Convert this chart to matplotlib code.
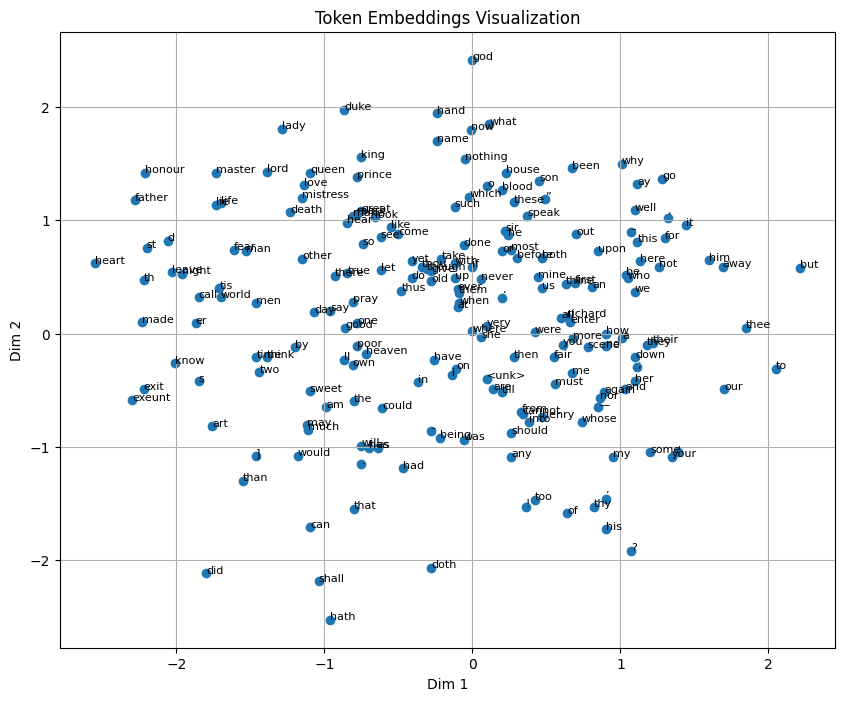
import matplotlib
matplotlib.use("Agg")
import matplotlib.pyplot as plt

# token labels and their 2-D embedding coordinates
words = ["god", "duke", "lady", "hand", "what", "now", "name", "king", "nothing",
         "honour", "master", "lord", "queen", "prince", "love", "mistress",
         "house", "been", "why", "son", "ay", "go", "o", "blood", "which",
         "these", "\u201d", "such", "father", "lie", "life", "death", "well",
         "hear", "make", "mark", "great", "look", "speak", "\u2018", "it",
         "like", "come", "see", "sir", "he", "out", "\u2013", "this", "for",
         "d", "st", "so", "done", "fear", "man", "or", "most", "before", "both",
         "upon", "heart", "other", "yet", "take", "thou", "though", "give",
         "with", "if", "here", "not", "him", "away", "but", "there", "true",
         "let", "do", "old", "up", "never", "mine", "us", "thine", "first", "an",
         "be", "who", "we", "leave", "night", "th", "tis", "call", "world", "men",
         "thus", "ever", "them", "when", "at", "\u2019", "pray", "day", "say",
         "made", "er", "good", "one", "all", "richard", "enter", "were",
         "where", "very", "she", "how", "more", "you", "scene", "no", "a",
         "they", "their", "poor", "heaven", "ll", "own", "by", "time", "think",
         "two", "know", "then", "fair", "down", "have", "on", "i", "<unk>", "me",
         ";", "in", "s", "exit", "exeunt", "must", "are", "till", "her", "and",
         "again", "nor", "\u2014", "sweet", "am", "the", "could", "may", "much",
         "art", "from", "cannot", "henry", "into", "whose", "should", "-",
         "being", "was", "will", "has", "as", "any", "my", "some", "your", "'",
         "]", "would", ".", "had", "than", "!", "too", "of", "thy", "\u2019 ",
         "his", "?", "that", "can", "doth", "did", "shall", "hath", "thee",
         "to", "our"]
dim1 = [0.00, -0.865, -1.29, -0.24, 0.115, -0.007, -0.24, -0.75, -0.05,
        -2.21, -1.73, -1.385, -1.095, -0.78, -1.14, -1.15,
        0.23, 0.67, 1.01, 0.45, 1.115, 1.28, 0.10, 0.20, -0.02,
        0.28, 0.49, -0.12, -2.28, -1.73, -1.70, -1.23, 1.095,
        -0.845, -0.81, -0.78, -0.75, -0.66, 0.37, 1.32, 1.44,
        -0.55, -0.50, -0.62, 0.22, 0.24, 0.70, 1.07, 1.115, 1.30,
        -2.06, -2.20, -0.74, -0.06, -1.61, -1.53, 0.20, 0.26, 0.30, 0.47,
        0.85, -2.55, -1.15, -0.41, -0.21, -0.34, -0.31, -0.28,
        -0.12, 0.00, 1.13, 1.26, 1.60, 1.69, 2.21, -0.93, -0.845,
        -0.62, -0.41, -0.28, -0.115, 0.06, 0.44, 0.47, 0.63, 0.69, 0.81,
        1.04, 1.05, 1.095, -2.03, -1.96, -2.22, -1.71, -1.85, -1.70, -1.46,
        -0.48, -0.10, -0.09, -0.09, -0.10, 0.20, -0.81, -1.07, -0.96,
        -2.23, -1.87, -0.86, -0.78, 0.60, 0.64, 0.66, 0.42,
        0.00, 0.095, 0.06, 0.905, 0.68, 0.61, 0.78, 0.905, 1.01,
        1.18, 1.22, -0.78, -0.72, -0.87, -0.81, -1.20, -1.46, -1.39,
        -1.44, -2.01, 0.28, 0.55, 1.10, -0.26, -0.11, -0.135, 0.095, 0.67,
        1.115, -0.365, -1.85, -2.22, -2.30, 0.56, 0.14, 0.20, 1.095, 1.03,
        0.89, 0.86, 0.85, -1.10, -0.99, -0.80, -0.61, -1.12, -1.11,
        -1.76, 0.33, 0.34, 0.47, 0.385, 0.74, 0.26, -0.28,
        -0.22, -0.06, -0.75, -0.70, -0.64, 0.26, 0.95, 1.20, 1.345, 1.39,
        -1.46, -1.18, -0.75, -0.47, -1.55, 0.36, 0.42, 0.64, 0.82, 0.905,
        0.90, 1.07, -0.80, -1.095, -0.28, -1.80, -1.04, -0.96, 1.845,
        2.05, 1.70]
dim2 = [2.42, 1.98, 1.81, 1.95, 1.85, 1.80, 1.70, 1.56, 1.54,
        1.42, 1.42, 1.43, 1.42, 1.38, 1.31, 1.20,
        1.42, 1.46, 1.50, 1.35, 1.32, 1.37, 1.30, 1.27, 1.21,
        1.16, 1.19, 1.12, 1.18, 1.14, 1.15, 1.07, 1.09,
        0.98, 1.04, 1.06, 1.08, 1.03, 1.04, 1.02, 0.96,
        0.94, 0.88, 0.85, 0.91, 0.87, 0.88, 0.90, 0.81, 0.84,
        0.82, 0.76, 0.79, 0.78, 0.74, 0.73, 0.73, 0.74, 0.67, 0.67,
        0.73, 0.62, 0.66, 0.64, 0.66, 0.59, 0.57, 0.55,
        0.62, 0.59, 0.64, 0.59, 0.65, 0.59, 0.58, 0.51, 0.535,
        0.56, 0.49, 0.46, 0.49, 0.48, 0.50, 0.40, 0.44, 0.45, 0.41,
        0.52, 0.49, 0.37, 0.54, 0.53, 0.47, 0.40, 0.32, 0.32, 0.27,
        0.38, 0.39, 0.36, 0.27, 0.23, 0.31, 0.28, 0.19, 0.20,
        0.10, 0.09, 0.05, 0.09, 0.14, 0.15, 0.10, 0.01,
        0.02, 0.07, -0.03, 0.00, -0.04, -0.10, -0.12, -0.11, -0.04,
        -0.10, -0.08, -0.11, -0.18, -0.23, -0.28, -0.12, -0.21, -0.21,
        -0.34, -0.26, -0.21, -0.21, -0.21, -0.23, -0.31, -0.37, -0.40, -0.35,
        -0.30, -0.43, -0.42, -0.49, -0.59, -0.45, -0.49, -0.52, -0.42, -0.49,
        -0.52, -0.57, -0.65, -0.51, -0.65, -0.60, -0.66, -0.81, -0.85,
        -0.82, -0.69, -0.71, -0.74, -0.78, -0.78, -0.88, -0.86,
        -0.92, -0.94, -0.99, -1.01, -1.01, -1.09, -1.09, -1.05, -1.09, -1.05,
        -1.08, -1.08, -1.15, -1.19, -1.30, -1.53, -1.47, -1.59, -1.53, -1.46,
        -1.73, -1.92, -1.55, -1.71, -2.07, -2.12, -2.19, -2.53, 0.05,
        -0.31, -0.49]

fig, ax = plt.subplots(figsize=(10, 8))
ax.scatter(dim1, dim2)
for w, x, y in zip(words, dim1, dim2):
    ax.text(x, y, w, fontsize=8)
ax.set_title("Token Embeddings Visualization")
ax.set_xlabel("Dim 1")
ax.set_ylabel("Dim 2")
ax.grid(True)
fig.savefig("out.png", dpi=100, bbox_inches="tight")
